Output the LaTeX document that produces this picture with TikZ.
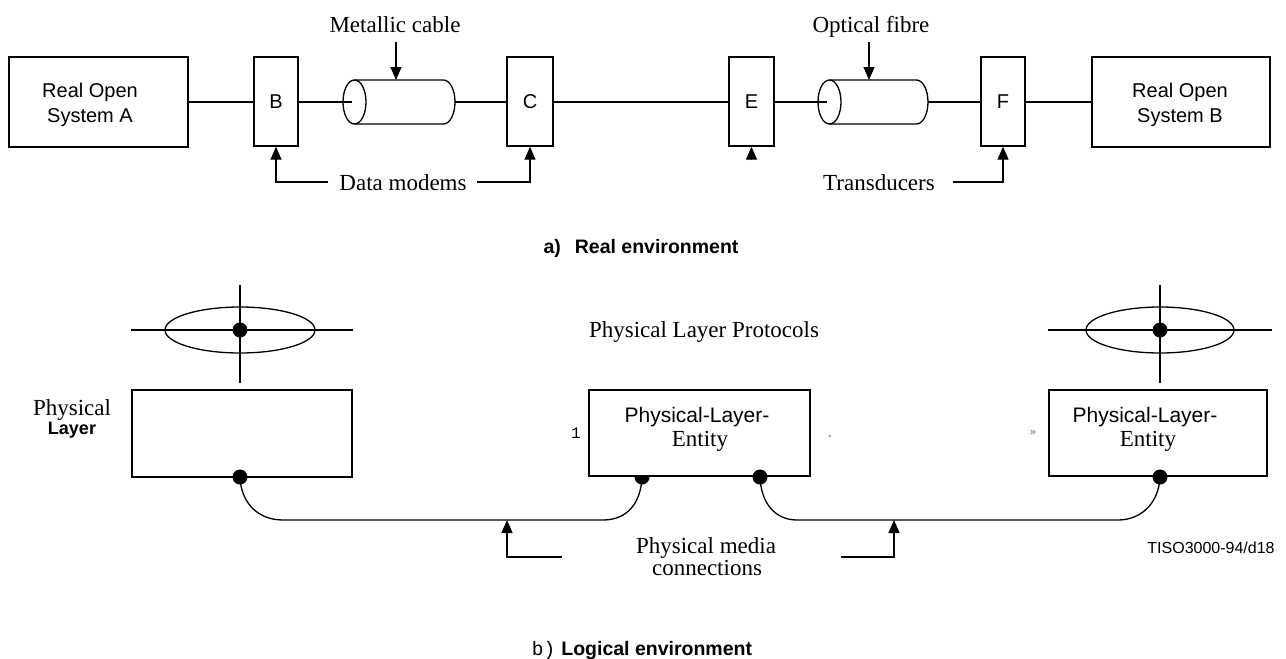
\documentclass[tikz,border=0pt]{standalone}
\usepackage{fontspec}
\setmainfont{Liberation Serif}
\setsansfont{Liberation Sans}
\setmonofont{Liberation Mono}
\usetikzlibrary{arrows.meta}
\newcommand{\txtSer}{\fontsize{23}{24}\selectfont\rmfamily}
\newcommand{\txtSan}{\fontsize{20}{24}\selectfont\sffamily}
\newcommand{\txtCap}{\fontsize{19.5}{22}\selectfont\sffamily\bfseries}
\begin{document}
\begin{tikzpicture}[x=1pt,y=-1pt,
  ln/.style={line width=1.3pt},
  arr/.style={line width=1.3pt,-{Triangle[width=11pt,length=13pt]}},
  box/.style={draw,line width=1.4pt,rectangle,inner sep=0pt},
  lbl/.style={inner sep=0pt,anchor=base},
  dot/.style={fill=black}]
\useasboundingbox (0,0) rectangle (1286,659);

% ---------- a) Real environment ----------
\node[box,minimum width=179pt,minimum height=90pt] (sysA) at (98.5,102) {};
\node[box,minimum width=44pt,minimum height=89pt] (mB) at (276,101.5) {};
\node[box,minimum width=46pt,minimum height=89pt] (mC) at (530,101.5) {};
\node[box,minimum width=45pt,minimum height=89pt] (tE) at (751.5,101.5) {};
\node[box,minimum width=44pt,minimum height=89pt] (tF) at (1003,101.5) {};
\node[box,minimum width=178pt,minimum height=90pt] (sysB) at (1181,102) {};

\node[lbl,font=\txtSan] (sysAa) at (90,97) {Real Open};
\node[lbl,font=\txtSan] (sysAb) at (90,122) {System A};
\node[lbl,font=\txtSan] (sysBa) at (1180,97) {Real Open};
\node[lbl,font=\txtSan] (sysBb) at (1180,122) {System B};
\node[lbl,font=\txtSan] (lB) at (276,108) {B};
\node[lbl,font=\txtSan] (lC) at (530,108) {C};
\node[lbl,font=\txtSan] (lE) at (751.5,108) {E};
\node[lbl,font=\txtSan] (lF) at (1003,108) {F};

% metallic cable cylinder
\coordinate (c1in) at (352,102);
\coordinate (c1out) at (455,102);
\draw[ln] (354.5,102) ellipse [x radius=11.5, y radius=22];
\draw[ln] (354.5,80) -- (443.5,80) arc[start angle=-90,end angle=90,x radius=11.5,y radius=22] -- (354.5,124);
% optical fibre cylinder
\coordinate (c2in) at (827,102);
\coordinate (c2out) at (928,102);
\draw[ln] (829.5,102) ellipse [x radius=11.5, y radius=22];
\draw[ln] (829.5,80) -- (916.5,80) arc[start angle=-90,end angle=90,x radius=11.5,y radius=22] -- (829.5,124);

\draw[ln] (sysA.east) -- (sysA.east -| mB.west);
\draw[ln] (mB.east |- c1in) -- (c1in);
\draw[ln] (c1out) -- (mC.west |- c1out);
\draw[ln] (mC.east |- c1out) -- (tE.west |- c1out);
\draw[ln] (tE.east |- c2in) -- (c2in);
\draw[ln] (c2out) -- (tF.west |- c2out);
\draw[ln] (tF.east |- sysB.west) -- (sysB.west);

\node[lbl,font=\txtSer] (metal) at (395,32) {Metallic cable};
\coordinate (m0) at (396,42);
\coordinate (m1) at (396,80);
\draw[arr] (m0) -- (m1);
\node[lbl,font=\txtSer] (optic) at (871,32) {Optical fibre};
\coordinate (o0) at (869,42);
\coordinate (o1) at (869,80);
\draw[arr] (o0) -- (o1);

\node[lbl,font=\txtSer] (dm) at (403,190) {Data modems};
\coordinate (dmL) at (328,182);
\coordinate (dmR) at (477,182);
\draw[arr] (dmL) -| (mB.south);
\draw[arr] (dmR) -| (mC.south);
\coordinate (e0) at (751.5,160);
\draw[arr] (e0) -- (tE.south);
\node[lbl,font=\txtSer] (trd) at (879,190) {Transducers};
\coordinate (trR) at (953,182);
\draw[arr] (trR) -| (tF.south);

\node[lbl,font=\txtCap] (capA) at (641,253) {a)\hspace{14pt}Real environment};

% ---------- b) Logical environment ----------
\node[box,minimum width=220pt,minimum height=87pt] (pl) at (242,433.5) {};
\node[box,minimum width=221pt,minimum height=86pt] (pe1) at (699.5,433) {};
\node[box,minimum width=218pt,minimum height=86pt] (pe2) at (1158,433) {};

% protocol symbols
\coordinate (s1) at (240,330);
\draw[ln] (s1) ellipse [x radius=75, y radius=23];
\draw[ln] (131,330) -- (353,330);
\draw[ln] (240,285) -- (240,383);
\fill (s1) circle [radius=7.5];
\coordinate (s2) at (1160,330);
\draw[ln] (s2) ellipse [x radius=74, y radius=23];
\draw[ln] (1048,330) -- (1272,330);
\draw[ln] (1160,285) -- (1160,383);
\fill (s2) circle [radius=7.5];

\node[lbl,font=\txtSer] (plp) at (704,337) {Physical Layer Protocols};

\node[lbl,font=\txtSer] (phy) at (72,415) {Physical};
\node[lbl,font=\fontsize{18}{20}\selectfont\sffamily\bfseries] (lay) at (72,434) {Layer};

\node[lbl,font=\fontsize{21}{24}\selectfont\sffamily] (pe1a) at (697,422) {Physical-Layer-};
\node[lbl,font=\txtSer] (pe1b) at (700,446) {Entity};
\node[lbl,font=\fontsize{21}{24}\selectfont\sffamily] (pe2a) at (1145,422) {Physical-Layer-};
\node[lbl,font=\txtSer] (pe2b) at (1148,446) {Entity};

\node[lbl,font=\fontsize{16}{18}\selectfont\ttfamily] (one) at (576,438) {1};
\node[lbl,font=\fontsize{8}{9}\selectfont\sffamily,text=black!60] (spk1) at (830,440) {*};
\node[lbl,font=\fontsize{11}{12}\selectfont\sffamily,text=black!60] (spk2) at (1033,435) {»};

% connection dots
\coordinate (dPL) at (240,477);
\coordinate (dM1) at (642,477);
\coordinate (dM2) at (760,477);
\coordinate (dPR) at (1160,477);
\fill (dPL) circle [radius=7.5];
\fill (634.5,477) arc[start angle=180,end angle=0,radius=7.5] -- cycle;
\fill (dM2) circle [radius=7.5];
\fill (dPR) circle [radius=7.5];

\draw[ln] (dPL) .. controls (241,503) and (258,520) .. (283,520) -- (603,520)
  .. controls (628,520) and (641,502) .. (dM1);
\draw[ln] (dM2) .. controls (761,503) and (775,520) .. (797,520) -- (1118,520)
  .. controls (1142,520) and (1159,502) .. (dPR);

\coordinate (la) at (562,557);
\coordinate (lt) at (507,520);
\draw[arr] (la) -| (lt);
\coordinate (ra) at (841,557);
\coordinate (rt) at (894,520);
\draw[arr] (ra) -| (rt);

\node[lbl,font=\txtSer] (pm1) at (706,553) {Physical media};
\node[lbl,font=\txtSer] (pm2) at (707,575) {connections};
\node[lbl,font=\fontsize{16}{18}\selectfont\sffamily] (tiso) at (1211,553) {TISO3000-94/d18};

\node[lbl,font=\txtCap] (capB) at (642,655) {{\mdseries\ttfamily b)}\hspace{6pt}Logical environment};
\end{tikzpicture}
\end{document}
